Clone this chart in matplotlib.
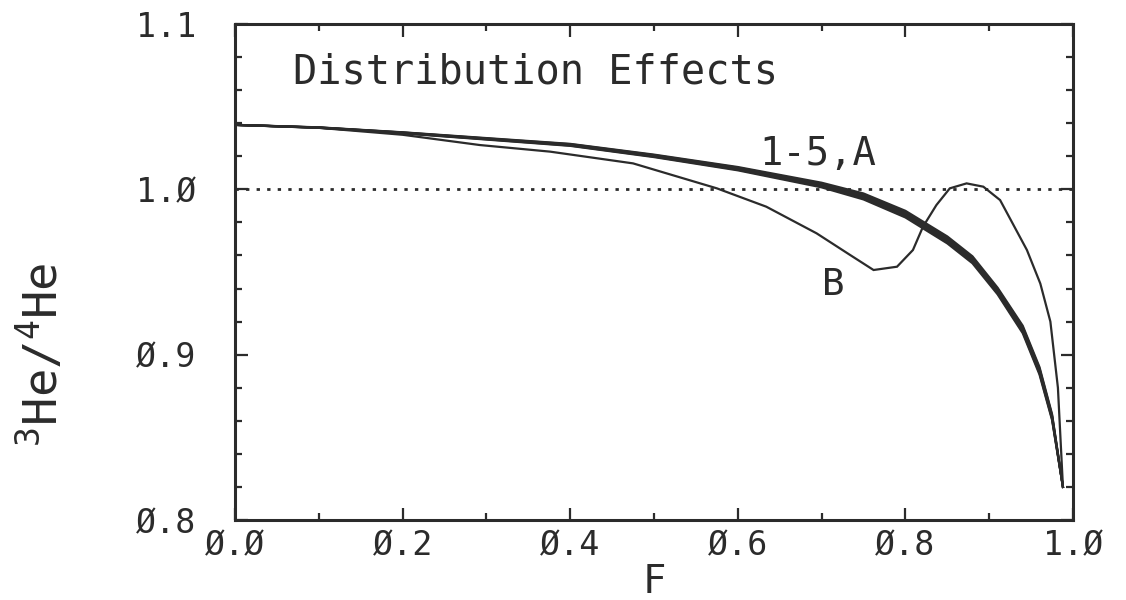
import matplotlib
matplotlib.use("Agg")
import matplotlib.pyplot as plt
from matplotlib.ticker import FixedLocator, MultipleLocator

# ---------------- data ----------------
x_ticks = [0.0, 0.2, 0.4, 0.6, 0.8, 1.0]
x_tick_labels = ["Ø.Ø", "Ø.2", "Ø.4", "Ø.6", "Ø.8", "1.Ø"]
y_ticks = [0.8, 0.9, 1.0, 1.1]
y_tick_labels = ["Ø.8", "Ø.9", "1.Ø", "1.1"]

F_bundle = [0.0, 0.1, 0.2, 0.3, 0.4, 0.5, 0.6, 0.7, 0.75, 0.8, 0.85, 0.88, 0.91, 0.94, 0.96, 0.975, 0.988]
curve_A = [1.0390, 1.0375, 1.0345, 1.0310, 1.0275, 1.0210, 1.0135, 1.0040, 0.9975, 0.9870, 0.9715, 0.9595, 0.9405, 0.9175, 0.8925, 0.8640, 0.8200]
curve_1 = [1.0390, 1.0374, 1.0344, 1.0308, 1.0273, 1.0207, 1.0131, 1.0034, 0.9968, 0.9862, 0.9707, 0.9587, 0.9397, 0.9166, 0.8916, 0.8633, 0.8200]
curve_2 = [1.0390, 1.0374, 1.0343, 1.0306, 1.0270, 1.0204, 1.0127, 1.0029, 0.9961, 0.9854, 0.9698, 0.9578, 0.9389, 0.9157, 0.8907, 0.8626, 0.8200]
curve_3 = [1.0390, 1.0373, 1.0341, 1.0305, 1.0268, 1.0201, 1.0123, 1.0023, 0.9953, 0.9846, 0.9690, 0.9570, 0.9381, 0.9148, 0.8898, 0.8619, 0.8200]
curve_4 = [1.0390, 1.0373, 1.0340, 1.0303, 1.0265, 1.0198, 1.0119, 1.0018, 0.9946, 0.9838, 0.9681, 0.9561, 0.9373, 0.9139, 0.8889, 0.8612, 0.8200]
curve_5 = [1.0390, 1.0372, 1.0339, 1.0301, 1.0263, 1.0195, 1.0115, 1.0012, 0.9939, 0.9830, 0.9673, 0.9553, 0.9365, 0.9130, 0.8880, 0.8605, 0.8200]

F_B = [0.0, 0.1, 0.2, 0.292, 0.376, 0.475, 0.575, 0.634, 0.694, 0.734, 0.762, 0.790, 0.809,
       0.821, 0.837, 0.853, 0.873, 0.893, 0.913, 0.945, 0.961, 0.973, 0.982, 0.988]
curve_B = [1.039, 1.0372, 1.0330, 1.0268, 1.0228, 1.0157, 1.0006, 0.9895, 0.9734, 0.9603, 0.9512, 0.9532, 0.9633,
           0.9774, 0.9905, 1.0006, 1.0036, 1.0016, 0.9935, 0.9633, 0.943, 0.920, 0.880, 0.820]

reference_level = 1.0

title_text = "Distribution Effects"
label_bundle = "1-5,A"
label_B = "B"

# ---------------- style ----------------
INK = "#2b2b2b"
FONT = "DejaVu Sans Mono"
plt.rcParams["font.family"] = [FONT, "DejaVu Sans"]
plt.rcParams["mathtext.fontset"] = "custom"
plt.rcParams["mathtext.rm"] = FONT
plt.rcParams["mathtext.it"] = FONT

fig = plt.figure(figsize=(11.26, 6.0), dpi=100)
fig.patch.set_facecolor("white")
ax = fig.add_axes([235 / 1126, 1 - 520 / 600, (1073 - 235) / 1126, (520 - 24) / 600])

for c in [curve_A, curve_1, curve_2, curve_3, curve_4, curve_5]:
    ax.plot(F_bundle, c, color=INK, lw=1.6, solid_joinstyle="round")
ax.plot(F_B, curve_B, color=INK, lw=1.6, solid_joinstyle="miter")

ax.axhline(reference_level, color=INK, lw=2.0, linestyle=(0, (1.2, 2.6)))

ax.set_xlim(0.0, 1.0)
ax.set_ylim(0.8, 1.1)

ax.xaxis.set_major_locator(FixedLocator(x_ticks))
ax.set_xticklabels(x_tick_labels)
ax.xaxis.set_minor_locator(MultipleLocator(0.1))
ax.yaxis.set_major_locator(FixedLocator(y_ticks))
ax.set_yticklabels(y_tick_labels)
ax.yaxis.set_minor_locator(MultipleLocator(0.02))

ax.tick_params(axis="both", which="both", direction="in", top=True, right=True,
               color=INK, width=1.6, labelcolor=INK)
ax.tick_params(axis="both", which="major", length=9)
ax.tick_params(axis="both", which="minor", length=5)
ax.tick_params(axis="x", which="major", labelsize=24, pad=7)
ax.tick_params(axis="y", which="major", labelsize=24, pad=28)

for s in ax.spines.values():
    s.set_color(INK)
    s.set_linewidth(2.2)

ax.set_xlabel("F", fontsize=28, color=INK, labelpad=0)
ax.set_ylabel(r"$^{3}$He/$^{4}$He", fontsize=34, color=INK)
ax.yaxis.set_label_coords(-0.2, 0.333)

ax.text(0.069, 1.0643, title_text, fontsize=29, color=INK, ha="left", va="baseline")
ax.text(0.626, 1.0147, label_bundle, fontsize=28, color=INK, ha="left", va="baseline")
ax.text(0.700, 0.936, label_B, fontsize=27, color=INK, ha="left", va="baseline")

fig.savefig("out.png", dpi=100, facecolor="white")
